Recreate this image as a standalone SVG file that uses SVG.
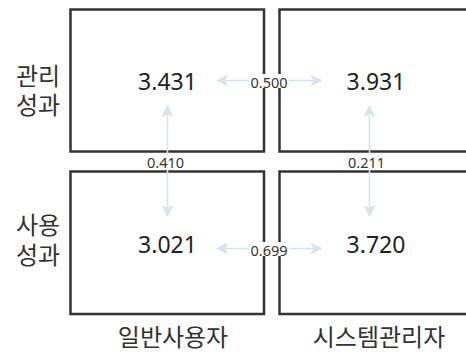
<svg xmlns="http://www.w3.org/2000/svg" width="466" height="352" viewBox="0 0 466 352">
<style>
.box{fill:#fff;stroke:#333;stroke-width:2.5}
.val{font-family:"Noto Sans","Noto Sans CJK KR",sans-serif;font-size:23px;fill:#222;text-anchor:middle}
.lbl{font-family:"Noto Sans CJK KR","Noto Sans",sans-serif;font-size:24px;fill:#333;text-anchor:middle}
.cl{fill:none;stroke:#d3e3f0;stroke-width:1.6}
.cv{font-family:"Noto Sans","Noto Sans CJK KR",sans-serif;font-size:14.5px;fill:#333;text-anchor:middle}
.bg{fill:#fff}
</style>
<defs>
<marker id="ah" viewBox="0 0 12 12" refX="11" refY="6" markerWidth="12" markerHeight="12" markerUnits="userSpaceOnUse" orient="auto-start-reverse">
<path d="M0,0 L12,6 L0,12 L3,6 Z" fill="#d3e3f0"/>
</marker>
</defs>
<g id="row-labels">
<text class="lbl" x="38" y="85"><tspan x="38">관리</tspan><tspan x="38" dy="29">성과</tspan></text>
<text class="lbl" x="38" y="234"><tspan x="38">사용</tspan><tspan x="38" dy="30">성과</tspan></text>
</g>
<g id="col-labels">
<text class="lbl" x="173" y="346">일반사용자</text>
<text class="lbl" x="379" y="346">시스템관리자</text>
</g>
<g id="node-user-mgmt">
<rect class="box" x="70.5" y="9.5" width="193.5" height="142"/>
<text class="val" x="167.5" y="90">3.431</text>
</g>
<g id="node-admin-mgmt">
<rect class="box" x="279.5" y="9.5" width="200" height="142"/>
<text class="val" x="376" y="90">3.931</text>
</g>
<g id="node-user-use">
<rect class="box" x="70.5" y="171.5" width="193.5" height="142.5"/>
<text class="val" x="167.5" y="252.5">3.021</text>
</g>
<g id="node-admin-use">
<rect class="box" x="279.5" y="171.5" width="200" height="142.5"/>
<text class="val" x="376" y="252.5">3.720</text>
</g>
<g id="connectors">
<line class="cl" x1="217" y1="80.5" x2="321.5" y2="80.5" marker-start="url(#ah)" marker-end="url(#ah)"/>
<rect class="bg" x="249" y="74" width="40" height="14"/>
<text class="cv" x="269" y="87.5">0.500</text>
<line class="cl" x1="217" y1="248.5" x2="321.5" y2="248.5" marker-start="url(#ah)" marker-end="url(#ah)"/>
<rect class="bg" x="249" y="242" width="40" height="14"/>
<text class="cv" x="269" y="255.5">0.699</text>
<line class="cl" x1="167.5" y1="106" x2="167.5" y2="216" marker-start="url(#ah)" marker-end="url(#ah)"/>
<rect class="bg" x="146" y="155" width="40" height="14"/>
<text class="cv" x="165.5" y="168">0.410</text>
<line class="cl" x1="369.5" y1="106" x2="369.5" y2="216" marker-start="url(#ah)" marker-end="url(#ah)"/>
<rect class="bg" x="347" y="155" width="40" height="14"/>
<text class="cv" x="366.5" y="168">0.211</text>
</g>
</svg>
